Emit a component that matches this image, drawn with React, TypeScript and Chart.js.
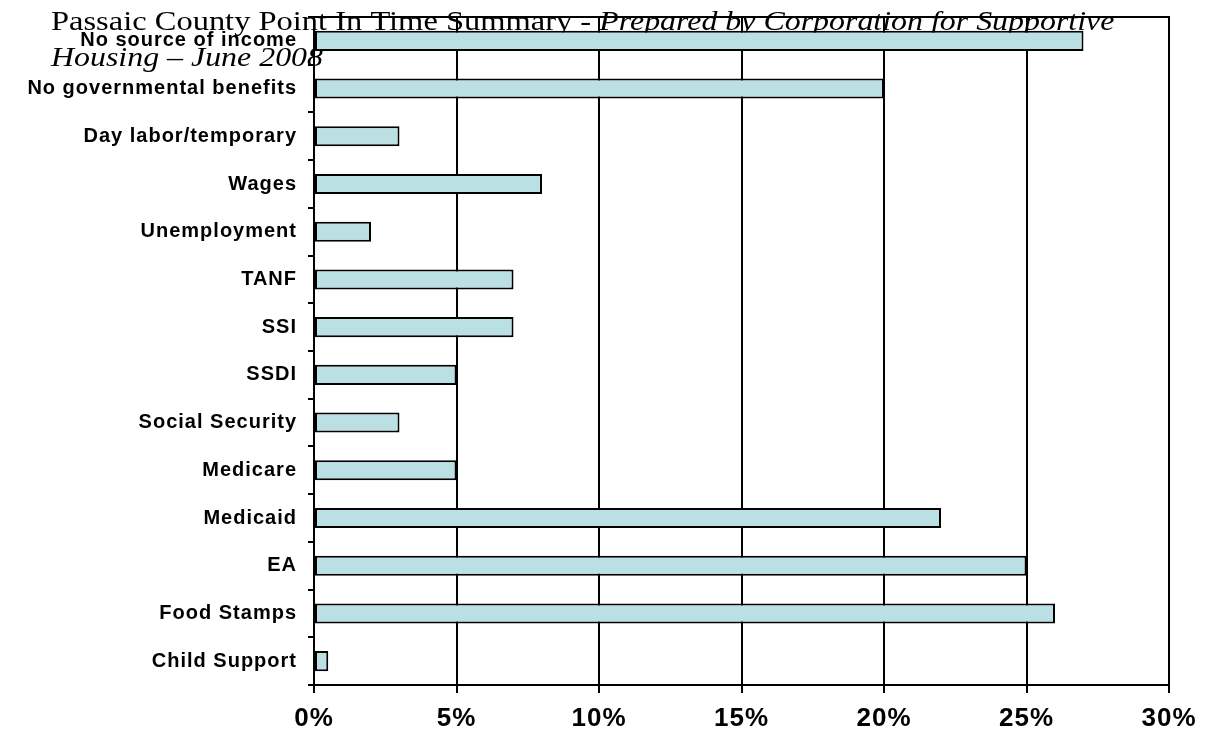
import React, { useEffect, useRef } from "react";
import { Chart, registerables } from "chart.js";

Chart.register(...registerables);

const categories = [
  "No source of income",
  "No governmental benefits",
  "Day labor/temporary",
  "Wages",
  "Unemployment",
  "TANF",
  "SSI",
  "SSDI",
  "Social Security",
  "Medicare",
  "Medicaid",
  "EA",
  "Food Stamps",
  "Child Support",
];
const values = [27, 20, 3, 8, 2, 7, 7, 5, 3, 5, 22, 25, 26, 0.5];
const xTicks = [0, 5, 10, 15, 20, 25, 30];

const titleNormal = "Passaic County Point In Time Summary - ";
const titleItalic1 = "Prepared by Corporation for Supportive";
const titleItalic2 = "Housing – June 2008";

const serif = "'Liberation Serif', 'Times New Roman', serif";

const titlePlugin = {
  id: "overlapTitle",
  beforeDraw(chart: any) {
    const ctx = chart.ctx;
    ctx.save();
    ctx.letterSpacing = "0px";
    ctx.fillStyle = "#000";
    ctx.textBaseline = "alphabetic";
    ctx.textAlign = "left";
    ctx.translate(51, 0);
    ctx.scale(1.16, 1);
    ctx.font = "28px " + serif;
    ctx.fillText(titleNormal, 0, 30);
    const w = ctx.measureText(titleNormal).width;
    ctx.font = "italic 27.5px " + serif;
    ctx.fillText(titleItalic1, w, 30);
    ctx.fillText(titleItalic2, 0, 66);
    ctx.restore();
    ctx.letterSpacing = "1px";
  },
  afterDraw(chart: any) {
    const { ctx, chartArea } = chart;
    ctx.save();
    ctx.strokeStyle = "#000";
    ctx.lineWidth = 2;
    ctx.strokeRect(chartArea.left, chartArea.top, chartArea.right - chartArea.left, chartArea.bottom - chartArea.top);
    ctx.restore();
    ctx.letterSpacing = "0px";
  },
};

export default function App() {
  const ref = useRef<HTMLCanvasElement | null>(null);
  useEffect(() => {
    document.body.style.margin = "0";
    const chart = new Chart(ref.current!, {
      type: "bar",
      data: {
        labels: categories,
        datasets: [
          {
            data: values,
            backgroundColor: "#BBE0E3",
            borderColor: "#000",
            borderWidth: 2,
            borderSkipped: false,
            barPercentage: 0.42,
            categoryPercentage: 1,
          },
        ],
      },
      options: {
        indexAxis: "y",
        animation: false,
        responsive: false,
        layout: { padding: { top: 17, right: 39, left: 0, bottom: 0 } },
        plugins: { legend: { display: false }, tooltip: { enabled: false }, title: { display: false } },
        scales: {
          x: {
            min: 0,
            max: 30,
            afterBuildTicks: (s: any) => {
              s.ticks = xTicks.map((v) => ({ value: v }));
            },
            afterFit: (s: any) => {
              s.height = 66;
            },
            grid: { color: "#000", lineWidth: 2, tickLength: 8, drawTicks: true },
            border: { display: true, color: "#000", width: 2 },
            ticks: {
              padding: 10,
              color: "#000",
              font: { family: "'Liberation Sans', Arial", size: 26, weight: "bold" },
              callback: (v: any) => v + "%",
            },
          },
          y: {
            afterFit: (s: any) => {
              s.width = 314;
              s.paddingTop = 0;
              s.paddingBottom = 0;
            },
            grid: { drawOnChartArea: false, drawTicks: true, tickLength: 6, color: "#000", lineWidth: 2, offset: true },
            border: { display: true, color: "#000", width: 2 },
            ticks: {
              padding: 11,
              color: "#000",
              font: { family: "'Liberation Sans', Arial", size: 20, weight: "bold" },
            },
          },
        },
      },
      plugins: [titlePlugin],
    });
    return () => chart.destroy();
  }, []);
  return (
    <div style={{ position: "relative", width: 1208, height: 751, background: "#fff" }}>
      <canvas ref={ref} width={1208} height={751} style={{ display: "block" }} />
    </div>
  );
}
